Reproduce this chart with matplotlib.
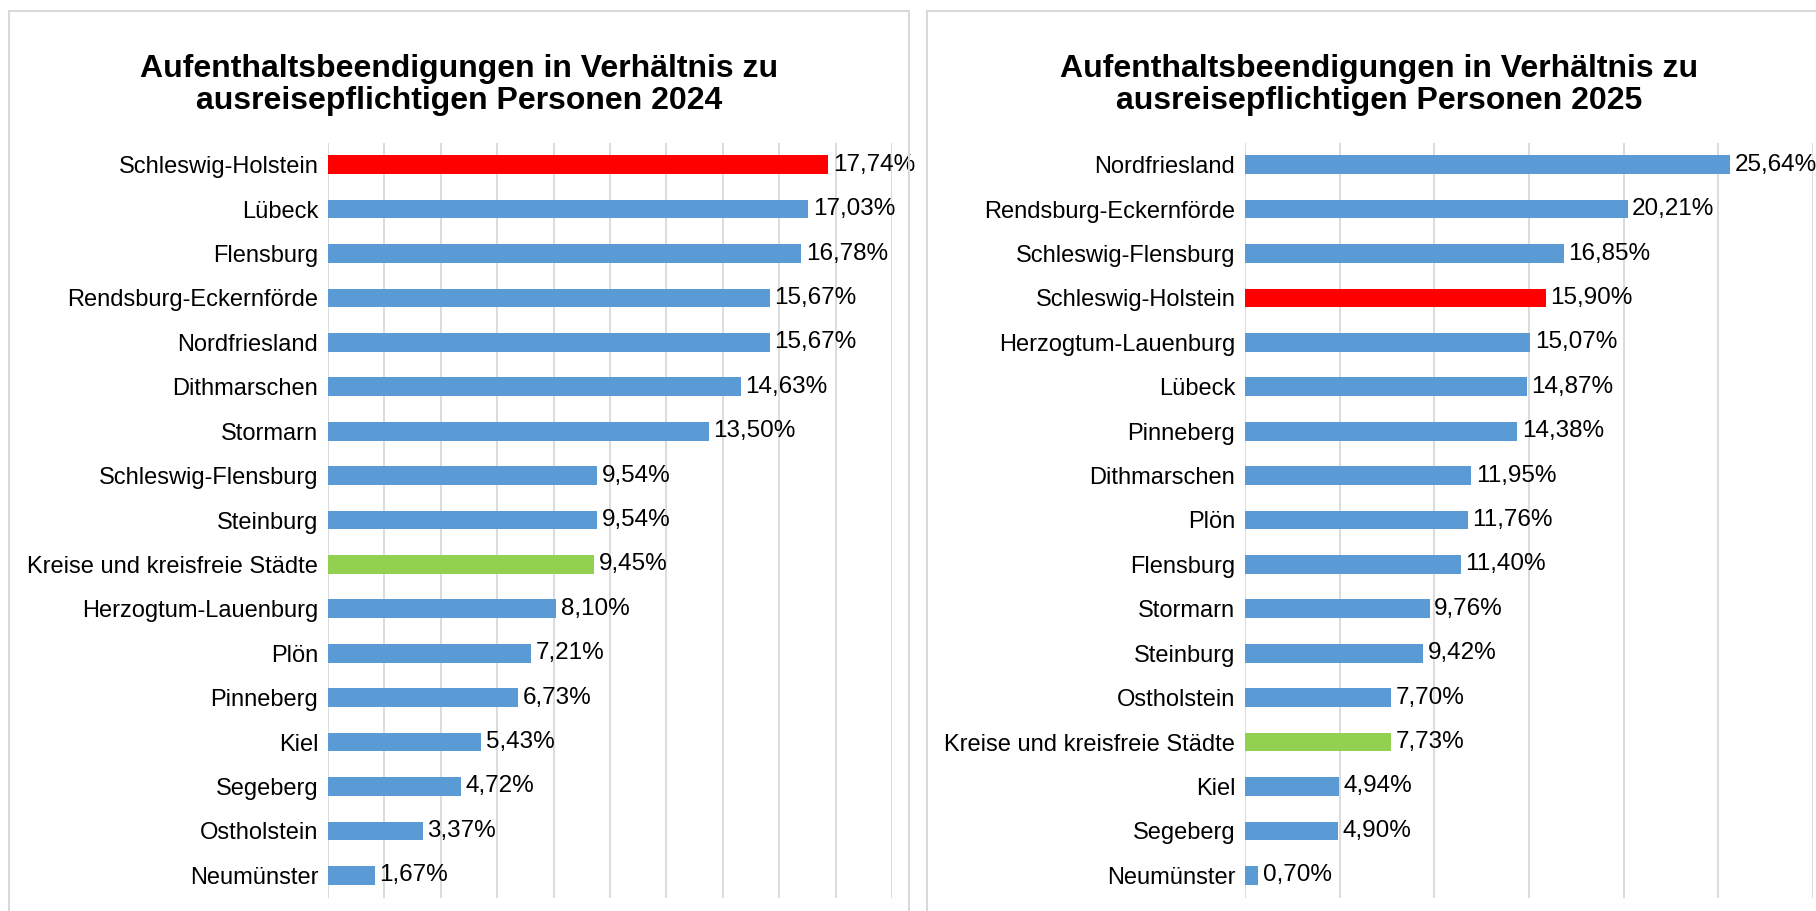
import matplotlib.pyplot as plt
from matplotlib.patches import Rectangle

plt.rcParams['font.family'] = ['Liberation Sans', 'DejaVu Sans']

# 2024 data (top to bottom)
labels_2024 = ['Schleswig-Holstein', 'Lübeck', 'Flensburg', 'Rendsburg-Eckernförde',
               'Nordfriesland', 'Dithmarschen', 'Stormarn', 'Schleswig-Flensburg',
               'Steinburg', 'Kreise und kreisfreie Städte', 'Herzogtum-Lauenburg',
               'Plön', 'Pinneberg', 'Kiel', 'Segeberg', 'Ostholstein', 'Neumünster']
values_2024 = [17.74, 17.03, 16.78, 15.67, 15.67, 14.63, 13.50, 9.54, 9.54, 9.45,
               8.10, 7.21, 6.73, 5.43, 4.72, 3.37, 1.67]

# 2025 data (top to bottom)
labels_2025 = ['Nordfriesland', 'Rendsburg-Eckernförde', 'Schleswig-Flensburg',
               'Schleswig-Holstein', 'Herzogtum-Lauenburg', 'Lübeck', 'Pinneberg',
               'Dithmarschen', 'Plön', 'Flensburg', 'Stormarn', 'Steinburg',
               'Ostholstein', 'Kreise und kreisfreie Städte', 'Kiel', 'Segeberg',
               'Neumünster']
values_2025 = [25.64, 20.21, 16.85, 15.90, 15.07, 14.87, 14.38, 11.95, 11.76, 11.40,
               9.76, 9.42, 7.70, 7.73, 4.94, 4.90, 0.70]

BLUE = '#5B9BD5'
RED = '#FF0000'
GREEN = '#92D050'
GRID = '#D9D9D9'


def bar_color(name):
    if name == 'Schleswig-Holstein':
        return RED
    if name == 'Kreise und kreisfreie Städte':
        return GREEN
    return BLUE


def draw_panel(ax, labels, values, xmax, step):
    y = list(range(len(labels)))
    colors = [bar_color(n) for n in labels]
    ax.barh(y, values, height=0.42, color=colors, zorder=3)
    ax.set_ylim(len(labels) - 0.5, -0.5)
    ax.set_xlim(0, xmax)
    ax.set_xticks([i * step for i in range(int(xmax / step) + 1)])
    ax.set_xticklabels([])
    ax.set_yticks(y)
    ax.set_yticklabels(labels, fontsize=17)
    ax.tick_params(axis='both', length=0)
    ax.tick_params(axis='y', pad=7)
    ax.grid(axis='x', color=GRID, linewidth=1.3, zorder=0)
    for s in ax.spines.values():
        s.set_visible(False)
    for yi, v in zip(y, values):
        ax.text(v + xmax * 0.008, yi, f'{v:.2f}'.replace('.', ',') + '%',
                va='center', ha='left', fontsize=17.5, clip_on=False)


fig = plt.figure(figsize=(18.16, 9.11), dpi=100)
W, H = 1816, 911

# panel borders
fig.add_artist(Rectangle((9 / W, -0.05), 900 / W, 1.05 - 11 / H, transform=fig.transFigure,
                         fill=False, edgecolor=GRID, linewidth=1.5))
fig.add_artist(Rectangle((927 / W, -0.05), 1.0, 1.05 - 11 / H, transform=fig.transFigure,
                         fill=False, edgecolor=GRID, linewidth=1.5))

ax1 = fig.add_axes([328 / W, 1 - 897.5 / H, (892 - 328) / W, (897.5 - 142.5) / H])
ax2 = fig.add_axes([1245 / W, 1 - 897.5 / H, (1813 - 1245) / W, (897.5 - 142.5) / H])

draw_panel(ax1, labels_2024, values_2024, 20, 2)
draw_panel(ax2, labels_2025, values_2025, 30, 5)

fig.text(459 / W, 1 - 85 / H,
         'Aufenthaltsbeendigungen in Verhältnis zu\nausreisepflichtigen Personen 2024',
         ha='center', va='center', fontsize=23, fontweight='bold', linespacing=1.1)
fig.text(1379 / W, 1 - 85 / H,
         'Aufenthaltsbeendigungen in Verhältnis zu\nausreisepflichtigen Personen 2025',
         ha='center', va='center', fontsize=23, fontweight='bold', linespacing=1.1)

fig.savefig('out.png', dpi=100)
